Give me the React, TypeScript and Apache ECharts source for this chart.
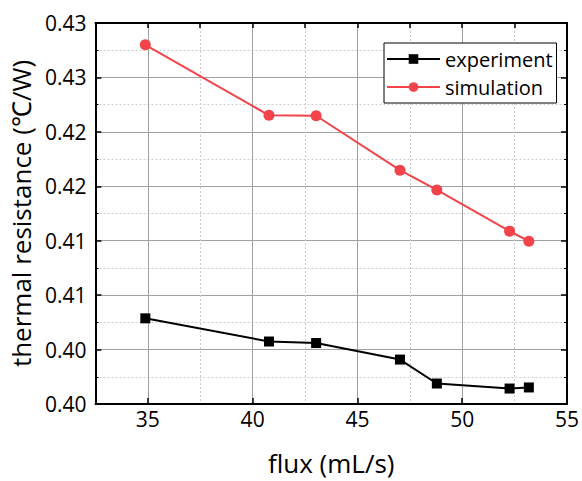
import React, { useEffect, useRef } from "react";
import * as echarts from "echarts";

const flux = [34.88, 40.78, 43.03, 47.03, 48.79, 52.26, 53.18];
const experiment = [0.40787, 0.40574, 0.4056, 0.40408, 0.40188, 0.40142, 0.40152];
const simulation = [0.433, 0.42652, 0.42648, 0.42148, 0.41966, 0.41588, 0.41495];
const yTickLabels = ["0.40", "0.40", "0.41", "0.41", "0.42", "0.42", "0.43", "0.43"];
const xTickValues = [35, 40, 45, 50, 55];

const FONT = "Open Sans";

export default function App() {
  const ref = useRef<HTMLDivElement>(null);
  useEffect(() => {
    if (!ref.current) return;
    const chart = echarts.init(ref.current, undefined, { renderer: "svg" });
    const majorGrid = { show: true, lineStyle: { color: "#a0a0a0", width: 1, type: "solid" as const } };
    const minorGrid = { show: true, lineStyle: { color: "#cccccc", width: 1, type: [2, 2] as any } };
    const axisLine = { show: true, onZero: false, lineStyle: { color: "#000", width: 2 } };
    const yCommon = {
      type: "value" as const,
      min: 0.4,
      max: 0.435,
      interval: 0.005,
    };
    chart.setOption({
      animation: false,
      textStyle: { fontFamily: FONT },
      grid: { left: 92, right: 13, top: 23, bottom: 72, containLabel: false },
      legend: {
        left: 384,
        top: 43,
        orient: "vertical",
        itemWidth: 53,
        itemHeight: 12,
        itemGap: 6,
        padding: [5, 4, 5, 2],
        borderColor: "#000",
        borderWidth: 1,
        backgroundColor: "#fff",
        borderRadius: 0,
        textStyle: { fontFamily: FONT, fontSize: 20, lineHeight: 22, color: "#000" },
        data: ["experiment", "simulation"],
      },
      xAxis: [
        {
          type: "value",
          min: 32.5,
          max: 55,
          position: "bottom",
          name: "flux (mL/s)",
          nameLocation: "middle",
          nameGap: 46,
          nameTextStyle: { fontFamily: FONT, fontSize: 26, color: "#000" },
          axisLine,
          axisTick: { show: true, inside: true, length: 6, lineStyle: { color: "#000", width: 1.5 }, customValues: xTickValues },
          axisLabel: {
            fontFamily: FONT,
            fontSize: 21,
            color: "#000",
            margin: 4,
            customValues: xTickValues,
            formatter: (v: number) => String(v),
          },
          splitLine: majorGrid,
        },
        {
          type: "value",
          min: 32.5,
          max: 55,
          interval: 2.5,
          position: "top",
          axisLine,
          axisTick: { show: true, inside: true, length: 5, lineStyle: { color: "#000", width: 1.5 } },
          axisLabel: { show: false },
          splitLine: { show: true, lineStyle: { color: ["#cccccc", "transparent"], width: 1, type: [2, 2] as any } },
        },
      ],
      yAxis: [
        {
          ...yCommon,
          position: "left",
          name: "thermal resistance (\u2103/W)",
          nameLocation: "middle",
          nameGap: 60,
          nameTextStyle: { fontFamily: FONT, fontSize: 26, color: "#000" },
          axisLine,
          axisTick: { show: true, inside: true, length: 6, lineStyle: { color: "#000", width: 1.5 } },
          minorTick: { show: true, splitNumber: 2, length: 3, lineStyle: { color: "#000", width: 1 } },
          axisLabel: {
            fontFamily: FONT,
            fontSize: 21,
            color: "#000",
            margin: 9,
            formatter: (_v: number, i: number) => yTickLabels[i] ?? "",
          },
          splitLine: majorGrid,
          minorSplitLine: minorGrid,
        },
        {
          ...yCommon,
          position: "right",
          axisLine,
          axisTick: { show: true, inside: true, length: 6, lineStyle: { color: "#000", width: 1.5 } },
          minorTick: { show: true, splitNumber: 2, length: 3, lineStyle: { color: "#000", width: 1 } },
          axisLabel: { show: false },
          splitLine: { show: false },
        },
      ],
      series: [
        {
          name: "experiment",
          type: "line",
          xAxisIndex: 0,
          yAxisIndex: 0,
          data: flux.map((x, i) => [x, experiment[i]]),
          symbol: "rect",
          symbolSize: 10,
          lineStyle: { color: "#000", width: 2 },
          itemStyle: { color: "#000" },
        },
        {
          name: "simulation",
          type: "line",
          xAxisIndex: 0,
          yAxisIndex: 0,
          data: flux.map((x, i) => [x, simulation[i]]),
          symbol: "circle",
          symbolSize: 11,
          lineStyle: { color: "#F2434A", width: 2 },
          itemStyle: { color: "#F2434A" },
        },
      ],
    });
    return () => chart.dispose();
  }, []);
  return <div ref={ref} style={{ width: 582, height: 481, position: "absolute", left: 0, top: 0 }} />;
}
